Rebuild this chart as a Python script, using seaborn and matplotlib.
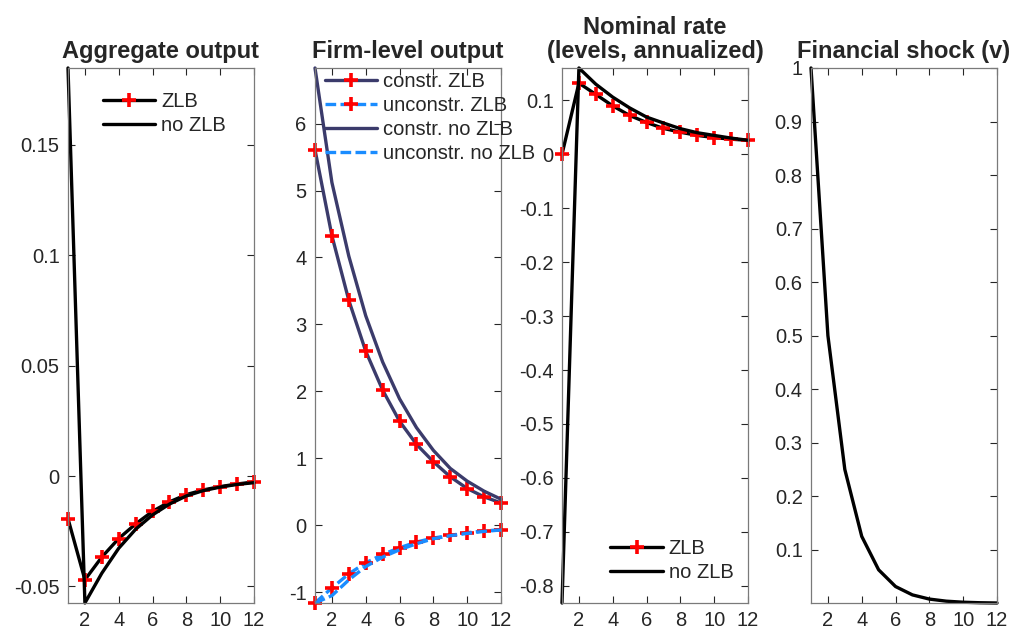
import numpy as np
import pandas as pd
import matplotlib
matplotlib.use("Agg")
import matplotlib.pyplot as plt
import seaborn as sns

# ---------------- data ----------------
t = [1, 2, 3, 4, 5, 6, 7, 8, 9, 10, 11, 12]

agg_zlb = [-0.0193, -0.0470, -0.0367, -0.0283, -0.0217, -0.0160, -0.0117, -0.0084, -0.0063, -0.0048, -0.0036, -0.0027]
agg_nozlb = [0.1848, -0.0575, -0.0440, -0.0327, -0.0241, -0.0176, -0.0127, -0.0090, -0.0066, -0.0050, -0.0038, -0.0030]

con_zlb = [5.61, 4.325, 3.36, 2.60, 2.02, 1.555, 1.21, 0.95, 0.725, 0.55, 0.425, 0.335]
uncon_zlb = [-1.16, -0.935, -0.725, -0.56, -0.435, -0.335, -0.25, -0.19, -0.15, -0.11, -0.085, -0.065]
con_nozlb = [6.83, 5.12, 4.02, 3.13, 2.44, 1.89, 1.46, 1.12, 0.85, 0.66, 0.51, 0.39]
uncon_nozlb = [-1.16, -1.05, -0.815, -0.615, -0.475, -0.365, -0.275, -0.20, -0.155, -0.12, -0.09, -0.07]

rate_zlb = [0.0, 0.132, 0.111, 0.0898, 0.072, 0.059, 0.048, 0.041, 0.035, 0.031, 0.028, 0.026]
rate_nozlb = [-0.832, 0.160, 0.130, 0.106, 0.086, 0.069, 0.058, 0.0475, 0.040, 0.035, 0.030, 0.026]

shock = [1.0, 0.5, 0.25, 0.125, 0.0625, 0.03125, 0.015625, 0.0078125, 0.00390625, 0.001953, 0.000977, 0.000488]

titles = ["Aggregate output", "Firm-level output", "Nominal rate\n(levels, annualized)", "Financial shock (v)"]
xticks = [2, 4, 6, 8, 10, 12]
yticks1 = [-0.05, 0, 0.05, 0.1, 0.15]
yticks2 = [-1, 0, 1, 2, 3, 4, 5, 6]
yticks3 = [-0.8, -0.7, -0.6, -0.5, -0.4, -0.3, -0.2, -0.1, 0, 0.1]
yticks4 = [0.1, 0.2, 0.3, 0.4, 0.5, 0.6, 0.7, 0.8, 0.9, 1]

# ---------------- style ----------------
sns.set_style("ticks")
plt.rcParams['font.family'] = ['Liberation Sans', 'DejaVu Sans']
plt.rcParams['axes.unicode_minus'] = False

NAVY = '#3b3b6b'
BLUE = '#1a8cff'
LW = 2.4
DASH = (0, (3.2, 1.3))
mk = dict(marker='+', markersize=10, markeredgewidth=2.6, markeredgecolor='red', markerfacecolor='red')

fig = plt.figure(figsize=(10.16, 6.39), dpi=100)
W, H = 1016, 639
top_px, bot_px = 68, 603
lefts = [68, 315, 562, 811]
width_px = 186
axes = []
for L in lefts:
    ax = fig.add_axes([L / W, 1 - bot_px / H, width_px / W, (bot_px - top_px) / H])
    axes.append(ax)

def fmt(v):
    return '%g' % v

def style(ax, title, yt, ylim):
    ax.set_xlim(1, 12)
    ax.set_ylim(*ylim)
    ax.set_xticks(xticks)
    ax.set_xticklabels([str(v) for v in xticks])
    ax.set_yticks(yt)
    ax.set_yticklabels([fmt(v) for v in yt])
    ax.tick_params(direction='in', top=True, right=True, length=5, width=0.8,
                   labelsize=14.5, colors='#262626', pad=6)
    for s in ax.spines.values():
        s.set_visible(True)
        s.set_color('#7a7a7a')
        s.set_linewidth(0.9)
    ax.set_title(title, fontsize=17, fontweight='bold', pad=7, linespacing=1.05)
    ax.set_xlabel('')
    ax.set_ylabel('')
    for ln in ax.get_lines():
        ln.set_clip_on(False)

# Panel 1
ax = axes[0]
sns.lineplot(x=t, y=agg_zlb, ax=ax, color='black', lw=LW, label='ZLB', **mk)
sns.lineplot(x=t, y=agg_nozlb, ax=ax, color='black', lw=LW, label='no ZLB')
style(ax, titles[0], yticks1, (min(agg_nozlb), max(agg_nozlb)))
ax.legend(loc='upper left', bbox_to_anchor=(0.187, 0.955), frameon=False, fontsize=14.5,
          borderpad=0, borderaxespad=0, handlelength=2.6, handletextpad=0.3, labelspacing=0.25)

# Panel 2
ax = axes[1]
sns.lineplot(x=t, y=con_zlb, ax=ax, color=NAVY, lw=LW, label='constr. ZLB', **mk)
sns.lineplot(x=t, y=uncon_zlb, ax=ax, color=BLUE, lw=LW, ls=DASH, label='unconstr. ZLB', **mk)
sns.lineplot(x=t, y=con_nozlb, ax=ax, color=NAVY, lw=LW, label='constr. no ZLB')
sns.lineplot(x=t, y=uncon_nozlb, ax=ax, color=BLUE, lw=LW, ls=DASH, label='unconstr. no ZLB')
style(ax, titles[1], yticks2, (-1.16, 6.83))
ax.legend(loc='upper left', bbox_to_anchor=(0.054, 0.993), frameon=False, fontsize=14.5,
          borderpad=0, borderaxespad=0, handlelength=2.6, handletextpad=0.3, labelspacing=0.25)

# Panel 3
ax = axes[2]
sns.lineplot(x=t, y=rate_zlb, ax=ax, color='black', lw=LW, label='ZLB', **mk)
sns.lineplot(x=t, y=rate_nozlb, ax=ax, color='black', lw=LW, label='no ZLB')
style(ax, titles[2], yticks3, (min(rate_nozlb), max(rate_nozlb)))
ax.legend(loc='lower left', bbox_to_anchor=(0.26, 0.039), frameon=False, fontsize=14.5,
          borderpad=0, borderaxespad=0, handlelength=2.6, handletextpad=0.3, labelspacing=0.25)

# Panel 4
ax = axes[3]
sns.lineplot(x=t, y=shock, ax=ax, color='black', lw=LW)
style(ax, titles[3], yticks4, (min(shock), max(shock)))

fig.savefig('out.png', dpi=100)
